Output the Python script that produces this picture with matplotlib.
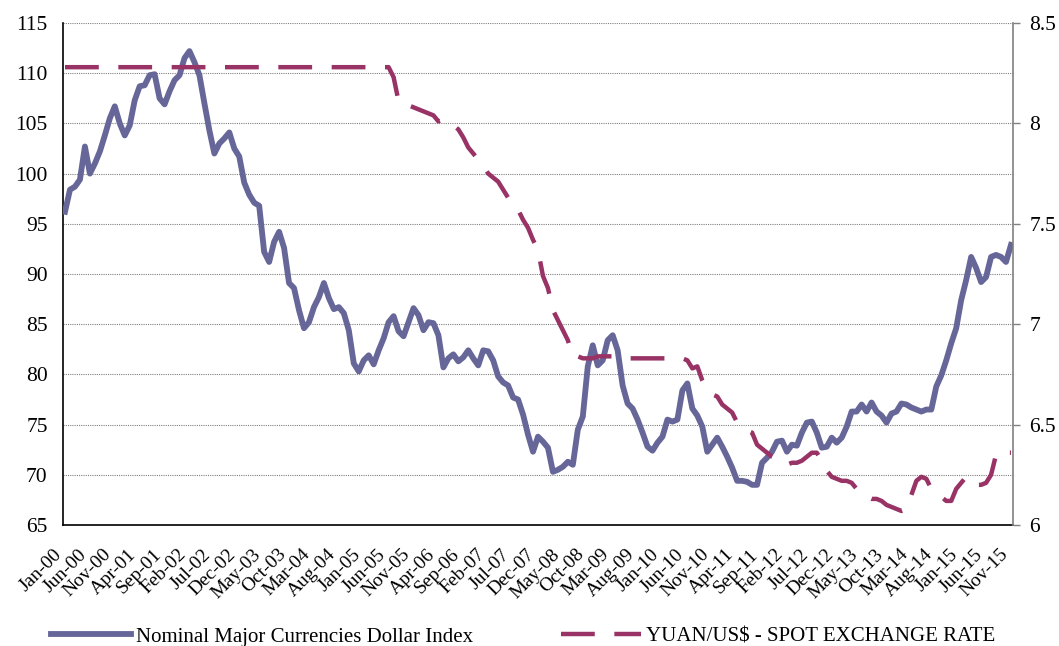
import matplotlib
matplotlib.use("Agg")
import matplotlib.pyplot as plt
import matplotlib.transforms as mtransforms
import numpy as np

plt.rcParams['font.family'] = ['Liberation Serif', 'DejaVu Serif']

# monthly, Jan-00 .. Nov-15
dollar_index = [
    96.2, 98.4, 98.7, 99.4, 102.7, 100.0, 101.0, 102.2, 103.8, 105.5, 106.7, 105.0,  # 2000
    103.8, 104.8, 107.3, 108.7, 108.8, 109.8, 109.9, 107.5, 106.9, 108.2, 109.3, 109.8,  # 2001
    111.5, 112.2, 111.1, 109.8, 107.0, 104.3, 102.0, 103.0, 103.5, 104.1, 102.5, 101.7,  # 2002
    99.1, 97.9, 97.1, 96.8, 92.2, 91.2, 93.2, 94.2, 92.6, 89.1, 88.6, 86.4,  # 2003
    84.6, 85.2, 86.7, 87.7, 89.1, 87.6, 86.5, 86.7, 86.1, 84.4, 81.1, 80.3,  # 2004
    81.4, 81.9, 81.0, 82.4, 83.6, 85.2, 85.8, 84.3, 83.8, 85.2, 86.6, 85.9,  # 2005
    84.4, 85.2, 85.1, 83.9, 80.7, 81.6, 82.0, 81.3, 81.7, 82.4, 81.6, 80.9,  # 2006
    82.4, 82.3, 81.4, 79.8, 79.2, 78.9, 77.7, 77.5, 76.0, 74.0, 72.3, 73.8,  # 2007
    73.3, 72.7, 70.3, 70.5, 70.8, 71.3, 71.0, 74.5, 75.8, 80.8, 82.9, 80.9,  # 2008
    81.4, 83.4, 83.9, 82.4, 78.9, 77.1, 76.6, 75.5, 74.2, 72.8, 72.4, 73.2,  # 2009
    73.8, 75.5, 75.3, 75.5, 78.4, 79.1, 76.6, 75.9, 74.8, 72.3, 73.0, 73.7,  # 2010
    72.8, 71.8, 70.7, 69.4, 69.4, 69.3, 69.0, 69.0, 71.2, 71.7, 72.3, 73.3,  # 2011
    73.4, 72.3, 73.0, 72.9, 74.2, 75.2, 75.3, 74.2, 72.7, 72.8, 73.7, 73.2,  # 2012
    73.7, 74.8, 76.3, 76.3, 77.0, 76.3, 77.2, 76.3, 75.9, 75.2, 76.1, 76.3,  # 2013
    77.1, 77.0, 76.7, 76.5, 76.3, 76.5, 76.5, 78.8, 79.9, 81.4, 83.1, 84.6,  # 2014
    87.4, 89.4, 91.7, 90.6, 89.2, 89.7, 91.7, 91.9, 91.7, 91.2, 92.9,  # 2015
]

yuan_usd = [8.28] * 60 + [  # 2000-2004
    8.28, 8.28, 8.28, 8.28, 8.28, 8.28, 8.23, 8.11, 8.09, 8.09, 8.08, 8.07,  # 2005
    8.06, 8.05, 8.04, 8.01, 8.02, 8.00, 7.99, 7.97, 7.93, 7.88, 7.85, 7.82,  # 2006
    7.79, 7.75, 7.73, 7.71, 7.67, 7.63, 7.59, 7.57, 7.52, 7.48, 7.42, 7.37,  # 2007
    7.24, 7.18, 7.07, 7.02, 6.97, 6.92, 6.84, 6.84, 6.83, 6.83, 6.83, 6.84,  # 2008
    6.84, 6.84, 6.84, 6.83, 6.83, 6.83, 6.83, 6.83, 6.83, 6.83, 6.83, 6.83,  # 2009
    6.83, 6.83, 6.83, 6.83, 6.83, 6.82, 6.78, 6.79, 6.72, 6.67, 6.65, 6.64,  # 2010
    6.60, 6.58, 6.56, 6.51, 6.49, 6.47, 6.46, 6.40, 6.38, 6.36, 6.34, 6.33,  # 2011
    6.31, 6.30, 6.31, 6.31, 6.32, 6.34, 6.36, 6.36, 6.32, 6.27, 6.24, 6.23,  # 2012
    6.22, 6.22, 6.21, 6.18, 6.15, 6.14, 6.13, 6.13, 6.12, 6.10, 6.09, 6.08,  # 2013
    6.07, 6.08, 6.15, 6.22, 6.24, 6.23, 6.18, 6.16, 6.14, 6.12, 6.12, 6.18,  # 2014
    6.21, 6.24, 6.23, 6.20, 6.20, 6.21, 6.25, 6.35, 6.37, 6.36, 6.36,  # 2015
]

months = ['Jan', 'Feb', 'Mar', 'Apr', 'May', 'Jun',
          'Jul', 'Aug', 'Sep', 'Oct', 'Nov', 'Dec']
dates = ['%s-%02d' % (months[i % 12], i // 12) for i in range(len(dollar_index))]

fig = plt.figure(figsize=(10.59, 6.46), dpi=100)
ax = fig.add_axes([0.0595, 0.1873, 0.8968, 0.7771])
ax2 = ax.twinx()

x = np.arange(len(dates))
l1, = ax.plot(x, dollar_index, color='#666699', lw=4.2, solid_joinstyle='round',
              label='Nominal Major Currencies Dollar Index', zorder=3)
l2, = ax2.plot(x, yuan_usd, color='#993366', lw=3.2, dashes=(7.6, 4.4),
               label='YUAN/US$ - SPOT EXCHANGE RATE', zorder=2)

ax.set_ylim(65, 115)
ax.set_yticks(np.arange(65, 116, 5))
ax2.set_ylim(6, 8.5)
ax2.set_yticks([6, 6.5, 7, 7.5, 8, 8.5])
ax2.set_yticklabels(['6', '6.5', '7', '7.5', '8', '8.5'])
ax.set_xlim(-0.4, 190.35)
ax.set_xticks(x[::5])
ax.set_xticklabels(dates[::5], rotation=45, ha='right')
shift = mtransforms.ScaledTranslation(-7 / 100, 0, fig.dpi_scale_trans)
for lab in ax.get_xticklabels():
    lab.set_transform(lab.get_transform() + shift)

ax.yaxis.grid(True, color='#808080', linestyle=(0, (1, 1)), lw=0.8)
ax.set_axisbelow(True)

for a in (ax, ax2):
    a.spines['top'].set_visible(False)
ax.spines['right'].set_visible(False)
ax2.spines['left'].set_visible(False)
ax2.spines['bottom'].set_visible(False)
ax2.spines['right'].set_color('#808080')
ax2.spines['right'].set_linewidth(1.2)
ax.spines['left'].set_linewidth(1.2)
ax.spines['bottom'].set_linewidth(1.2)

ax.tick_params(axis='y', length=0, pad=11, labelsize=15.5)
ax.tick_params(axis='x', length=0, pad=15, labelsize=14)
ax2.tick_params(axis='y', length=5, width=1, color='#808080', pad=7, labelsize=15.5)

fig.legend(handles=[l1, l2], loc='lower center', bbox_to_anchor=(0.494, -0.03),
           ncol=2, frameon=False, fontsize=15, handlelength=3.85,
           columnspacing=4.2, handletextpad=0.25)

fig.savefig('out.png', dpi=100)
